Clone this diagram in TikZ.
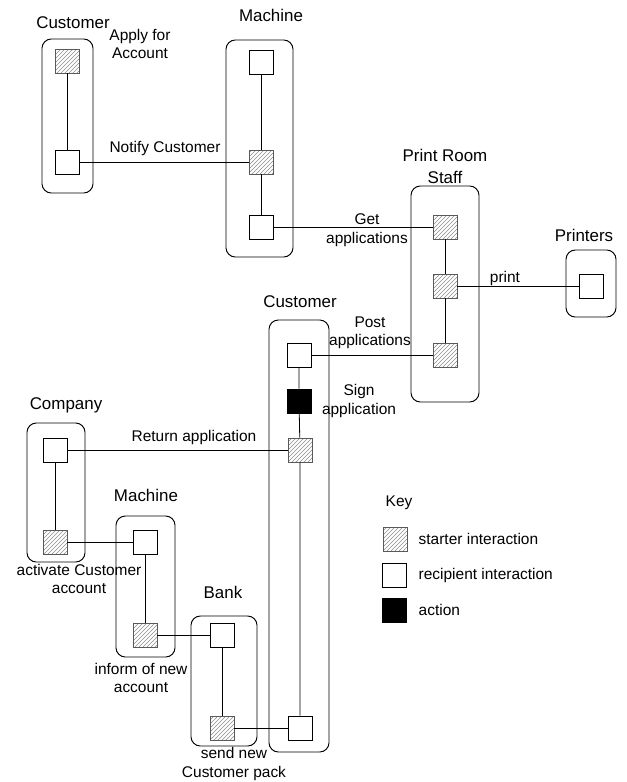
\documentclass[tikz,border=0pt]{standalone}
\usepackage{fontspec}
\setmainfont{Liberation Sans}
\usetikzlibrary{positioning,patterns}

\begin{document}
\begin{tikzpicture}[
  x=0.75pt, y=-0.75pt,
  lane/.style={draw, rounded corners=7pt, line width=0.7pt},
  starter/.style={draw=gray!70!black, pattern=north east lines, pattern color=gray!90,
                  minimum size=18pt, inner sep=0pt},
  recip/.style={draw, fill=white, minimum size=18pt, inner sep=0pt, line width=0.6pt},
  act/.style={draw, fill=black, minimum size=18pt, inner sep=0pt},
  ttl/.style={font=\fontsize{12.7}{16.5}\selectfont, align=center},
  lbl/.style={font=\fontsize{11.6}{13.9}\selectfont, align=center},
  link/.style={line width=0.6pt}
]
\useasboundingbox (0,0) rectangle (626,782);

% ===== Customer (top) =====
\draw[lane] (42,39) rectangle (93,193);
\node[ttl] (tCust1) at (73,23) {Customer};
\node[starter] (cu1a) at (67,61) {};
\node[recip]   (cu1b) at (67,162) {};
\node[lbl] (lApply) at (140,44) {Apply for\\Account};

% ===== Machine (top) =====
\draw[lane] (226,40) rectangle (293,257);
\node[ttl] (tMach1) at (271,15) {Machine};
\node[recip]   (ma1a) at (261,62) {};
\node[starter] (ma1b) at (261,162) {};
\node[recip]   (ma1c) at (261,227) {};
\node[lbl] (lNotify) at (165,148) {Notify Customer};

% ===== Print Room Staff =====
\draw[lane] (411,186) rectangle (479,402);
\node[ttl] (tPrint) at (445,166) {Print Room\\Staff};
\node[starter] (pr1) at (445,227) {};
\node[starter] (pr2) at (445,286) {};
\node[starter] (pr3) at (445,355) {};
\node[lbl] (lGet) at (367,230) {Get\\applications};
\node[lbl] (lPrint) at (505,278) {print};

% ===== Printers =====
\draw[lane] (566,250) rectangle (616,317);
\node[ttl] (tPrinters) at (584,235) {Printers};
\node[recip] (pt1) at (591,286) {};

% ===== Customer (middle) =====
\draw[lane] (269,320) rectangle (329,752);
\node[ttl] (tCust2) at (300,302) {Customer};
\node[recip]   (cu2a) at (299,355) {};
\node[act]     (cu2b) at (299,401) {};
\node[starter] (cu2c) at (300,450) {};
\node[recip]   (cu2d) at (300,728) {};
\node[lbl] (lPost) at (370,333) {Post\\applications};
\node[lbl] (lSign) at (359,401) {Sign\\application};

% ===== Company =====
\draw[lane] (27,423) rectangle (85,562);
\node[ttl] (tComp) at (66,405) {Company};
\node[recip]   (co1) at (55,450) {};
\node[starter] (co2) at (55,542) {};
\node[lbl] (lReturn) at (194,437) {Return application};
\node[lbl] (lActivate) at (79,579) {activate Customer\\account};

% ===== Machine (bottom) =====
\draw[lane] (116,516) rectangle (175,657);
\node[ttl] (tMach2) at (146,495) {Machine};
\node[recip]   (ma2a) at (145,542) {};
\node[starter] (ma2b) at (145,635) {};
\node[lbl] (lInform) at (141,678) {inform of new\\account};

% ===== Bank =====
\draw[lane] (191,616) rectangle (257,746);
\node[ttl] (tBank) at (223,592) {Bank};
\node[recip]   (ba1) at (222,635) {};
\node[starter] (ba2) at (222,728) {};
\node[lbl] (lSend) at (234,764) {send new\\Customer pack};

% ===== Key =====
\node[lbl, anchor=west] (kTitle) at (381,503) {Key};
\node[starter] (kS) at (395,539) {};
\node[recip]   (kR) at (394,575) {};
\node[act]     (kA) at (394,610) {};
\node[lbl, anchor=west] (kSt) at (414,539) {starter interaction};
\node[lbl, anchor=west] (kRt) at (414,575) {recipient interaction};
\node[lbl, anchor=west] (kAt) at (414,610) {action};

% ===== Lifelines =====
\draw[link] (cu1a) -- (cu1b);
\draw[link] (ma1a) -- (ma1b) -- (ma1c);
\draw[link] (pr1) -- (pr2) -- (pr3);
\draw[link] (cu2a) -- (cu2b) -- (cu2c) -- (cu2d);
\draw[link] (co1) -- (co2);
\draw[link] (ma2a) -- (ma2b);
\draw[link] (ba1) -- (ba2);

% ===== Interactions =====
\draw[link] (cu1b) -- (ma1b);
\draw[link] (ma1c) -- (pr1);
\draw[link] (pr2) -- (pt1);
\draw[link] (cu2a) -- (pr3);
\draw[link] (co1) -- (cu2c);
\draw[link] (co2) -- (ma2a);
\draw[link] (ma2b) -- (ba1);
\draw[link] (ba2) -- (cu2d);

\end{tikzpicture}
\end{document}
